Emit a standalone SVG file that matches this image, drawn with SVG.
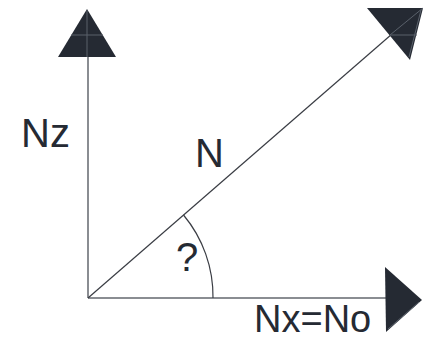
<svg xmlns="http://www.w3.org/2000/svg" width="431" height="340" viewBox="0 0 431 340">
<style>
.head{fill:#252a33;stroke:none}
.inner{stroke:#5a616b;stroke-width:1;fill:none}
.axis{stroke:#8a8d92;stroke-width:2;fill:none}
.vec{stroke:#3a3d44;stroke-width:1.2;fill:none}
.lbl{font-family:"Liberation Sans",Arial,sans-serif;font-size:40px;fill:#252a33}
</style>
<rect width="431" height="340" fill="#ffffff"/>
<g id="connectors">
<line class="axis" x1="88" y1="298" x2="88" y2="57"/>
<line class="axis" x1="88" y1="298" x2="386" y2="298"/>
<line class="vec" x1="88" y1="298" x2="392" y2="34"/>
<path class="vec" d="M183.5,215 A127,127 0 0 1 213,298"/>
</g>
<g id="arrow-z">
<polygon class="head" points="87,9 58,57 116,57"/>
<line class="inner" x1="87" y1="10" x2="87" y2="57"/>
<line class="inner" x1="71" y1="35" x2="103" y2="35"/>
</g>
<g id="arrow-n">
<polygon class="head" points="367,8 423,8 410,60"/>
<line class="inner" x1="390" y1="35" x2="423" y2="8"/>
<line class="inner" x1="390" y1="35" x2="417" y2="35"/>
<line class="inner" x1="421" y1="10" x2="409" y2="57" stroke="#8a8d92"/>
</g>
<g id="arrow-x">
<polygon class="head" points="385,267 422,300 386,332"/>
<line class="inner" x1="388" y1="329" x2="419" y2="302" stroke="#8a8d92"/>
</g>
<g id="labels">
<text class="lbl" x="21" y="147">Nz</text>
<text class="lbl" x="195" y="167">N</text>
<text class="lbl" x="176" y="271">?</text>
<text class="lbl" x="254" y="332" style="font-size:38px">Nx=No</text>
</g>
</svg>
